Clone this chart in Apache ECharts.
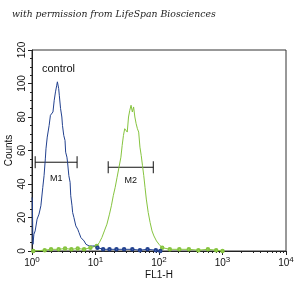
<!DOCTYPE html>
<html><head><meta charset="utf-8">
<script src="https://cdn.jsdelivr.net/npm/echarts@6/dist/echarts.min.js"></script>
<style>html,body{margin:0;padding:0;background:#fff}#c{width:305px;height:296px}</style>
</head><body><div id="c"></div>
<script>
// x values are in decades (log10 of FL1-H)
var blueX = [0, 0.005, 0.015, 0.03, 0.05, 0.08, 0.11, 0.14, 0.17, 0.19, 0.21, 0.22, 0.24, 0.27, 0.29, 0.31, 0.33, 0.35, 0.37, 0.39, 0.40, 0.42, 0.43, 0.45, 0.47, 0.48, 0.50, 0.52, 0.53, 0.55, 0.56, 0.58, 0.60, 0.61, 0.63, 0.64, 0.66, 0.69, 0.72, 0.74, 0.77, 0.79, 0.82, 0.85, 0.87, 0.90, 0.93, 0.95, 0.98, 1.0, 1.03];
var blueY = [32, 30, 4, 10, 12, 19, 22, 27, 38, 45, 55, 61, 68, 75, 81, 80, 83, 90, 95, 99, 101, 97, 93, 85, 80, 75, 69, 66, 59, 56, 53, 45, 41, 33, 27, 23, 20, 15, 13, 11, 8, 7, 6, 4, 5, 3, 4, 3, 2, 3, 2];
var blueTailX = [1.03, 1.12, 1.22, 1.33, 1.45, 1.58, 1.7, 1.82, 1.95, 2.02];
var blueTailY = [2, 1, 1, 1, 1, 1, 0.5, 1, 0.5, 0];
var greenHeadX = [0.02, 0.2, 0.3, 0.42, 0.52, 0.62, 0.72, 0.82, 0.92, 1.02];
var greenHeadY = [0, 0.5, 1, 1, 1.5, 1, 1.5, 1, 2, 3];
var greenX = [1.02, 1.06, 1.1, 1.14, 1.18, 1.22, 1.25, 1.28, 1.31, 1.34, 1.37, 1.40, 1.42, 1.44, 1.46, 1.48, 1.50, 1.52, 1.54, 1.56, 1.58, 1.60, 1.62, 1.64, 1.66, 1.68, 1.70, 1.72, 1.74, 1.76, 1.78, 1.80, 1.83, 1.86, 1.89, 1.92, 1.96, 2.0, 2.05];
var greenY = [3, 5, 8, 12, 16, 22, 27, 33, 38, 44, 50, 56, 63, 69, 73, 72, 71, 80, 84, 87, 83, 86, 80, 76, 73, 71, 62, 57, 51, 45, 38, 31, 23, 17, 12, 9, 6, 4, 2];
var greenTailX = [2.05, 2.17, 2.32, 2.47, 2.62, 2.77, 2.9, 3.0];
var greenTailY = [2, 1, 1, 1, 0.5, 1, 0.5, 0];
var gateNames = ['M1', 'M2'];
var gateStart = [0.05, 1.20];
var gateEnd = [0.71, 1.91];
var gateLevel = [53, 50];
var gateLabelLevel = [43, 42];
var xTickExps = [0, 1, 2, 3, 4];
var yTicks = [0, 20, 40, 60, 80, 100, 120];

function pairs(xs, ys) { return xs.map(function (x, i) { return [x, ys[i]]; }); }
var minorX = [];
for (var d = 0; d < 4; d++) for (var k = 2; k <= 9; k++) minorX.push(d + Math.log10(k));

var BLUE = '#22418f', GREEN = '#86c43f';
var chart = echarts.init(document.getElementById('c'));
chart.setOption({
  backgroundColor: '#fff',
  animation: false,
  grid: { left: 32, top: 50, right: 19, bottom: 45, containLabel: false, outerBoundsMode: 'none', show: true, borderColor: '#333', borderWidth: 1, backgroundColor: 'transparent' },
  graphic: [
    { type: 'text', left: 12, top: 10, style: { text: 'with permission from LifeSpan Biosciences', font: 'italic 9.3px "DejaVu Serif"', fill: '#222' } },
    { type: 'text', left: 42, top: 63, style: { text: 'control', font: '11px "Liberation Sans", Arial', fill: '#111' } }
  ],
  xAxis: [{
    type: 'value', min: 0, max: 4, interval: 1,
    name: 'FL1-H', nameLocation: 'middle', nameGap: 19, nameMoveOverlap: false,
    nameTextStyle: { fontSize: 10, fontFamily: 'Liberation Sans', color: '#111' },
    axisLine: { show: true, lineStyle: { color: '#222' } },
    axisTick: { show: true, length: 4, lineStyle: { color: '#222' } },
    splitLine: { show: false },
    axisLabel: {
      customValues: xTickExps, margin: 5,
      formatter: function (v) { return '{b|10}{s|' + Math.round(v) + '}'; },
      rich: { b: { fontSize: 10, fontFamily: 'Liberation Sans', color: '#111' },
              s: { fontSize: 8, fontFamily: 'Liberation Sans', color: '#111', padding: [0, 0, 6, 0] } }
    }
  }, {
    type: 'value', min: 0, max: 4, position: 'bottom',
    axisLine: { show: false }, splitLine: { show: false },
    axisLabel: { show: false },
    axisTick: { show: true, length: 2, customValues: minorX, lineStyle: { color: '#222' } }
  }],
  yAxis: {
    type: 'value', min: 0, max: 120, interval: 20,
    name: 'Counts', nameLocation: 'middle', nameGap: 18, nameRotate: 90, nameMoveOverlap: false,
    nameTextStyle: { fontSize: 10, fontFamily: 'Liberation Sans', color: '#111' },
    axisLine: { show: true, lineStyle: { color: '#222' } },
    axisTick: { show: true, length: 4, lineStyle: { color: '#222' } },
    minorTick: { show: true, splitNumber: 4, length: 2, lineStyle: { color: '#222' } },
    splitLine: { show: false },
    axisLabel: { customValues: yTicks, rotate: 90, margin: 5, fontSize: 10, fontFamily: 'Liberation Sans', color: '#111' }
  },
  series: [
    { type: 'line', data: pairs(greenHeadX, greenHeadY), showSymbol: true, symbol: 'emptyCircle', symbolSize: 2.5, lineStyle: { color: GREEN, width: 1 }, itemStyle: { color: GREEN, borderWidth: 0.8 }, silent: true },
    { type: 'line', data: pairs(greenX, greenY), showSymbol: false, lineStyle: { color: GREEN, width: 1 }, silent: true },
    { type: 'line', data: pairs(greenTailX, greenTailY), showSymbol: true, symbol: 'emptyCircle', symbolSize: 2.5, lineStyle: { color: GREEN, width: 1 }, itemStyle: { color: GREEN, borderWidth: 0.8 }, silent: true },
    { type: 'line', data: pairs(blueX, blueY), showSymbol: false, lineStyle: { color: BLUE, width: 1 }, silent: true },
    { type: 'line', data: pairs(blueTailX, blueTailY), showSymbol: true, symbol: 'emptyCircle', symbolSize: 2.5, lineStyle: { color: BLUE, width: 1 }, itemStyle: { color: BLUE, borderWidth: 0.8 }, silent: true },
    {
      type: 'custom', silent: true,
      data: gateNames.map(function (n, i) { return [gateStart[i], gateEnd[i], gateLevel[i], gateLabelLevel[i]]; }),
      renderItem: function (params, api) {
        var i = params.dataIndex;
        var a = api.coord([api.value(0), api.value(2)]);
        var b = api.coord([api.value(1), api.value(2)]);
        var t = api.coord([(api.value(0) + api.value(1)) / 2, api.value(3)]);
        var st = { stroke: '#111', lineWidth: 1 };
        return { type: 'group', children: [
          { type: 'line', shape: { x1: a[0], y1: a[1], x2: b[0], y2: b[1] }, style: st },
          { type: 'line', shape: { x1: a[0], y1: a[1] - 6, x2: a[0], y2: a[1] + 6 }, style: st },
          { type: 'line', shape: { x1: b[0], y1: b[1] - 6, x2: b[0], y2: b[1] + 6 }, style: st },
          { type: 'text', x: t[0], y: t[1], style: { text: gateNames[i], font: '9px "Liberation Sans", Arial', fill: '#111', align: 'center', verticalAlign: 'middle' } }
        ] };
      }
    }
  ]
});
</script></body></html>
